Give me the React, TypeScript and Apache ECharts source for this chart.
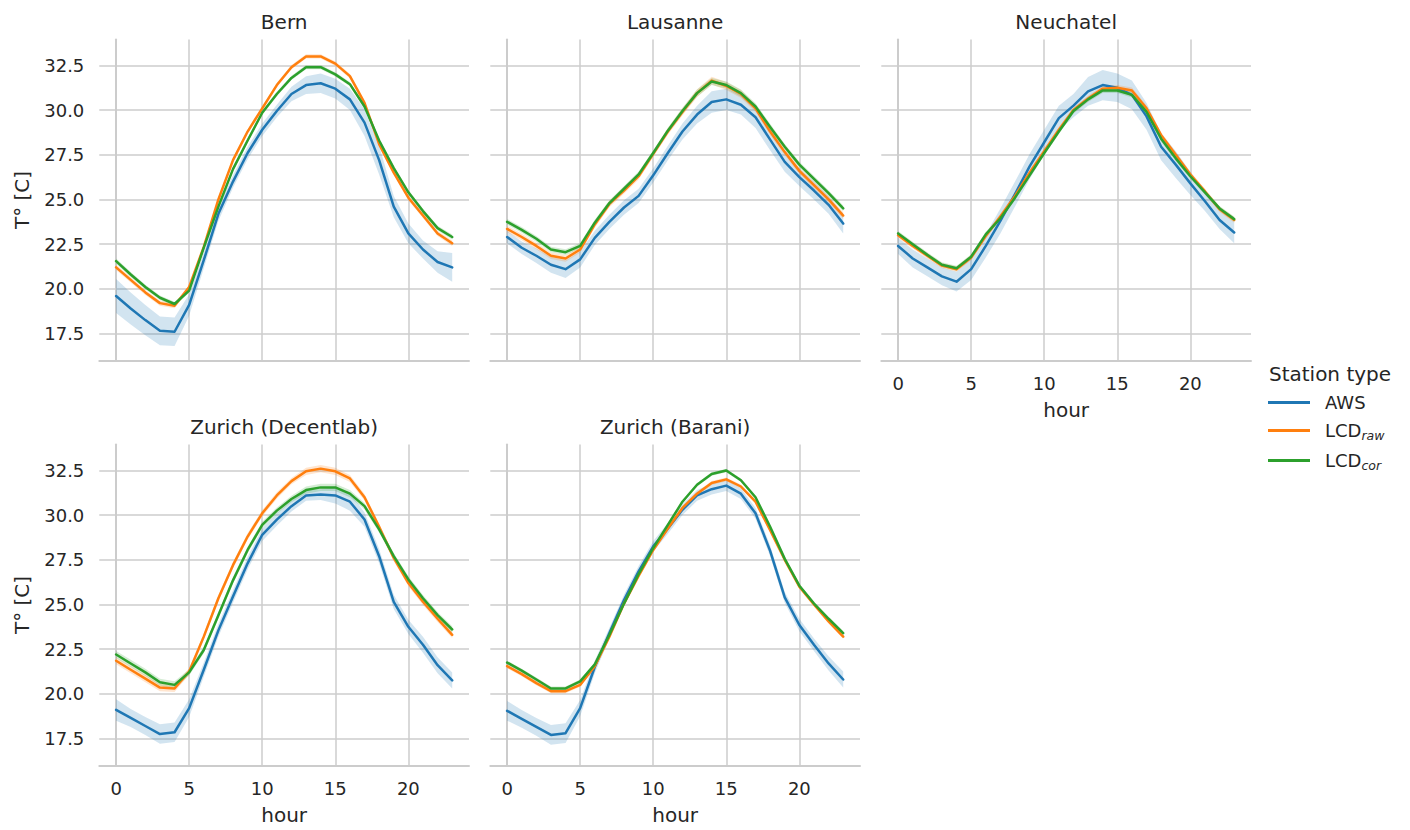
import React, { useEffect, useRef } from "react";
import * as echarts from "echarts";

const HOURS = [0, 1, 2, 3, 4, 5, 6, 7, 8, 9, 10, 11, 12, 13, 14, 15, 16, 17, 18, 19, 20, 21, 22, 23];
const X_TICKS = [0, 5, 10, 15, 20];
const Y_TICKS = [17.5, 20, 22.5, 25, 27.5, 30, 32.5];
const STATION_TYPES = ["AWS", "LCD_raw", "LCD_cor"];
const PANEL_TITLES = ["Bern", "Lausanne", "Neuchatel", "Zurich (Decentlab)", "Zurich (Barani)"];

// Bern
const bernAws = [19.6, 18.9, 18.25, 17.65, 17.6, 19.1, 21.6, 24.2, 26.0, 27.6, 28.9, 29.95, 30.9, 31.4, 31.5, 31.2, 30.6, 29.3, 27.2, 24.6, 23.1, 22.2, 21.5, 21.2];
const bernAwsCi = [0.95, 0.9, 0.85, 0.8, 0.8, 0.6, 0.45, 0.4, 0.35, 0.35, 0.35, 0.35, 0.4, 0.5, 0.55, 0.55, 0.6, 0.75, 0.8, 0.6, 0.55, 0.5, 0.6, 0.8];
const bernRaw = [21.2, 20.5, 19.8, 19.2, 19.05, 20.1, 22.35, 25.0, 27.2, 28.8, 30.1, 31.4, 32.4, 33.0, 33.0, 32.6, 31.9, 30.4, 28.1, 26.5, 25.1, 24.1, 23.1, 22.55];
const bernRawCi = [0.15, 0.15, 0.14, 0.14, 0.14, 0.13, 0.13, 0.13, 0.12, 0.12, 0.12, 0.12, 0.12, 0.12, 0.12, 0.12, 0.13, 0.13, 0.13, 0.13, 0.14, 0.14, 0.14, 0.15];
const bernCor = [21.55, 20.8, 20.1, 19.5, 19.15, 19.9, 22.3, 24.6, 26.7, 28.3, 29.85, 30.9, 31.8, 32.4, 32.4, 32.0, 31.45, 30.2, 28.3, 26.75, 25.4, 24.35, 23.4, 22.9];
const bernCorCi = [0.14, 0.14, 0.13, 0.13, 0.13, 0.12, 0.12, 0.12, 0.12, 0.12, 0.12, 0.12, 0.12, 0.12, 0.12, 0.12, 0.12, 0.12, 0.12, 0.12, 0.13, 0.13, 0.13, 0.14];

// Lausanne
const lauAws = [22.9, 22.3, 21.85, 21.35, 21.1, 21.65, 22.85, 23.75, 24.55, 25.2, 26.35, 27.6, 28.8, 29.75, 30.45, 30.6, 30.3, 29.6, 28.35, 27.1, 26.25, 25.5, 24.7, 23.65];
const lauAwsCi = [0.35, 0.35, 0.4, 0.45, 0.5, 0.45, 0.4, 0.4, 0.4, 0.4, 0.4, 0.4, 0.45, 0.5, 0.6, 0.6, 0.55, 0.6, 0.6, 0.55, 0.5, 0.5, 0.5, 0.55];
const lauRaw = [23.35, 22.9, 22.4, 21.85, 21.7, 22.2, 23.6, 24.75, 25.5, 26.3, 27.55, 28.8, 29.9, 30.95, 31.65, 31.35, 30.9, 30.1, 28.8, 27.65, 26.6, 25.8, 25.0, 24.1];
const lauRawCi = [0.18, 0.18, 0.18, 0.18, 0.18, 0.18, 0.18, 0.18, 0.18, 0.18, 0.18, 0.18, 0.2, 0.22, 0.22, 0.22, 0.22, 0.2, 0.2, 0.18, 0.18, 0.18, 0.18, 0.18];
const lauCor = [23.75, 23.3, 22.8, 22.2, 22.05, 22.4, 23.7, 24.8, 25.6, 26.4, 27.6, 28.85, 29.95, 30.95, 31.6, 31.4, 30.95, 30.2, 29.05, 27.95, 26.95, 26.15, 25.35, 24.5];
const lauCorCi = [0.16, 0.16, 0.16, 0.16, 0.16, 0.16, 0.16, 0.16, 0.16, 0.16, 0.16, 0.16, 0.18, 0.2, 0.2, 0.2, 0.2, 0.18, 0.18, 0.16, 0.16, 0.16, 0.16, 0.16];

// Neuchatel
const neuAws = [22.4, 21.7, 21.2, 20.7, 20.4, 21.1, 22.4, 23.8, 25.3, 26.85, 28.2, 29.55, 30.25, 31.05, 31.4, 31.25, 30.85, 29.65, 27.95, 26.95, 25.9, 24.9, 23.85, 23.15];
const neuAwsCi = [0.45, 0.5, 0.5, 0.5, 0.55, 0.6, 0.65, 0.7, 0.7, 0.7, 0.7, 0.7, 0.65, 0.8, 0.85, 0.8, 0.8, 0.75, 0.75, 0.75, 0.65, 0.55, 0.5, 0.6];
const neuRaw = [23.0, 22.4, 21.85, 21.3, 21.1, 21.75, 22.95, 24.05, 25.2, 26.5, 27.7, 28.9, 30.0, 30.65, 31.2, 31.25, 31.1, 30.1, 28.6, 27.5, 26.4, 25.45, 24.45, 23.85];
const neuRawCi = [0.15, 0.15, 0.15, 0.15, 0.15, 0.15, 0.15, 0.15, 0.15, 0.15, 0.15, 0.15, 0.15, 0.15, 0.15, 0.16, 0.16, 0.16, 0.16, 0.16, 0.15, 0.15, 0.15, 0.15];
const neuCor = [23.1, 22.5, 21.9, 21.35, 21.15, 21.8, 23.05, 23.95, 25.1, 26.35, 27.6, 28.8, 29.95, 30.6, 31.1, 31.1, 30.85, 29.9, 28.4, 27.3, 26.3, 25.4, 24.5, 23.9];
const neuCorCi = [0.14, 0.14, 0.14, 0.14, 0.14, 0.14, 0.14, 0.14, 0.14, 0.14, 0.14, 0.14, 0.14, 0.14, 0.15, 0.15, 0.15, 0.15, 0.15, 0.15, 0.14, 0.14, 0.14, 0.14];

// Zurich (Decentlab)
const zdAws = [19.1, 18.65, 18.2, 17.75, 17.85, 19.2, 21.35, 23.55, 25.45, 27.3, 28.9, 29.75, 30.5, 31.1, 31.15, 31.1, 30.75, 29.75, 27.7, 25.15, 23.75, 22.75, 21.6, 20.75];
const zdAwsCi = [0.6, 0.5, 0.5, 0.55, 0.55, 0.5, 0.4, 0.35, 0.35, 0.35, 0.35, 0.35, 0.3, 0.3, 0.3, 0.45, 0.5, 0.4, 0.4, 0.4, 0.4, 0.45, 0.45, 0.45];
const zdRaw = [21.85, 21.35, 20.85, 20.35, 20.3, 21.25, 23.2, 25.35, 27.2, 28.8, 30.1, 31.1, 31.9, 32.45, 32.6, 32.45, 32.05, 31.0, 29.35, 27.6, 26.2, 25.15, 24.2, 23.3];
const zdRawCi = [0.2, 0.2, 0.2, 0.2, 0.2, 0.18, 0.18, 0.18, 0.18, 0.18, 0.18, 0.18, 0.18, 0.2, 0.2, 0.2, 0.2, 0.18, 0.18, 0.18, 0.18, 0.18, 0.18, 0.18];
const zdCor = [22.2, 21.7, 21.2, 20.65, 20.5, 21.2, 22.45, 24.4, 26.35, 28.05, 29.45, 30.25, 30.9, 31.4, 31.55, 31.55, 31.2, 30.5, 29.2, 27.7, 26.4, 25.35, 24.4, 23.6];
const zdCorCi = [0.2, 0.2, 0.2, 0.2, 0.2, 0.18, 0.18, 0.18, 0.18, 0.18, 0.18, 0.18, 0.18, 0.2, 0.2, 0.2, 0.2, 0.18, 0.18, 0.18, 0.18, 0.18, 0.18, 0.18];

// Zurich (Barani)
const zbAws = [19.05, 18.6, 18.15, 17.7, 17.8, 19.2, 21.5, 23.4, 25.25, 26.85, 28.25, 29.25, 30.3, 31.1, 31.45, 31.65, 31.2, 30.1, 28.0, 25.4, 23.85, 22.75, 21.7, 20.8];
const zbAwsCi = [0.55, 0.5, 0.5, 0.55, 0.55, 0.45, 0.35, 0.3, 0.3, 0.3, 0.3, 0.3, 0.3, 0.3, 0.3, 0.3, 0.3, 0.3, 0.3, 0.3, 0.35, 0.35, 0.4, 0.45];
const zbRaw = [21.55, 21.1, 20.6, 20.15, 20.15, 20.5, 21.55, 23.2, 25.05, 26.6, 28.05, 29.25, 30.4, 31.2, 31.8, 32.0, 31.6, 30.75, 29.15, 27.5, 26.0, 25.0, 24.05, 23.2];
const zbRawCi = [0.12, 0.12, 0.12, 0.12, 0.12, 0.11, 0.11, 0.11, 0.11, 0.11, 0.11, 0.11, 0.11, 0.11, 0.11, 0.11, 0.11, 0.11, 0.11, 0.11, 0.12, 0.12, 0.12, 0.12];
const zbCor = [21.75, 21.3, 20.8, 20.3, 20.3, 20.7, 21.65, 23.3, 25.05, 26.7, 28.15, 29.45, 30.75, 31.7, 32.3, 32.5, 31.95, 31.0, 29.35, 27.55, 26.05, 25.05, 24.2, 23.4];
const zbCorCi = [0.11, 0.11, 0.11, 0.11, 0.11, 0.1, 0.1, 0.1, 0.1, 0.1, 0.1, 0.1, 0.1, 0.1, 0.1, 0.1, 0.1, 0.1, 0.1, 0.1, 0.11, 0.11, 0.11, 0.11];

const PANELS = [
  { means: [bernAws, bernRaw, bernCor], cis: [bernAwsCi, bernRawCi, bernCorCi] },
  { means: [lauAws, lauRaw, lauCor], cis: [lauAwsCi, lauRawCi, lauCorCi] },
  { means: [neuAws, neuRaw, neuCor], cis: [neuAwsCi, neuRawCi, neuCorCi] },
  { means: [zdAws, zdRaw, zdCor], cis: [zdAwsCi, zdRawCi, zdCorCi] },
  { means: [zbAws, zbRaw, zbCor], cis: [zbAwsCi, zbRawCi, zbCorCi] },
];

const COLORS = ["#1f77b4", "#ff7f0e", "#2ca02c"];
const BAND_COLORS = ["rgba(31,119,180,0.2)", "rgba(255,127,14,0.2)", "rgba(44,160,44,0.2)"];
const FONT = '"DejaVu Sans", sans-serif';
const TEXT = "#262626";
const GRID_C = "#cccccc";

const COL_LEFT = [99.3, 490.3, 881.3];
const ROW_TOP = [39.5, 444.5];
const GW = 369.7;
const GH = 321;
const POS = [
  [0, 0],
  [1, 0],
  [2, 0],
  [0, 1],
  [1, 1],
];
const SHOW_X = [false, false, true, true, true];
const SHOW_Y = [true, false, false, true, false];

function buildOption() {
  const grids: any[] = [];
  const xAxes: any[] = [];
  const yAxes: any[] = [];
  const series: any[] = [];
  const graphics: any[] = [];

  PANELS.forEach((p, i) => {
    const [c, r] = POS[i];
    grids.push({ left: COL_LEFT[c], top: ROW_TOP[r], width: GW, height: GH, containLabel: false, outerBoundsMode: "none" });
    xAxes.push({
      type: "value",
      gridIndex: i,
      min: -1.15,
      max: 24.15,
      name: SHOW_X[i] ? "hour" : "",
      nameLocation: "middle",
      nameGap: 39,
      nameTextStyle: { fontFamily: FONT, fontSize: 20, color: TEXT },
      axisLine: { show: true, lineStyle: { color: GRID_C, width: 2 } },
      axisTick: { show: false, customValues: X_TICKS },
      axisLabel: { show: SHOW_X[i], customValues: X_TICKS, margin: 14, fontFamily: FONT, fontSize: 18, color: TEXT },
      splitLine: { show: true, lineStyle: { color: GRID_C, width: 1.5 } },
    });
    yAxes.push({
      type: "value",
      gridIndex: i,
      min: 15.99,
      max: 33.95,
      name: SHOW_Y[i] ? "T° [C]" : "",
      nameLocation: "middle",
      nameGap: 67,
      nameTextStyle: { fontFamily: FONT, fontSize: 20, color: TEXT },
      axisLine: { show: true, lineStyle: { color: GRID_C, width: 2 } },
      axisTick: { show: false, customValues: Y_TICKS },
      axisLabel: {
        show: SHOW_Y[i],
        customValues: Y_TICKS,
        margin: 15,
        fontFamily: FONT,
        fontSize: 18,
        color: TEXT,
        formatter: (v: number) => v.toFixed(1),
      },
      splitLine: { show: true, lineStyle: { color: GRID_C, width: 1.5 } },
    });

    STATION_TYPES.forEach((name, k) => {
      const mean = p.means[k];
      const ci = p.cis[k];
      series.push({
        type: "custom",
        xAxisIndex: i,
        yAxisIndex: i,
        silent: true,
        z: 2,
        data: HOURS.map((h, j) => [h, mean[j] - ci[j], mean[j] + ci[j]]),
        encode: { x: 0, y: [1, 2] },
        renderItem: (params: any, api: any) => {
          if (params.dataIndex !== 0) return null;
          const upper = HOURS.map((h, j) => api.coord([h, mean[j] + ci[j]]));
          const lower = HOURS.map((h, j) => api.coord([h, mean[j] - ci[j]])).reverse();
          return { type: "polygon", shape: { points: upper.concat(lower) }, style: { fill: BAND_COLORS[k] } };
        },
      });
      series.push({
        name,
        type: "line",
        xAxisIndex: i,
        yAxisIndex: i,
        z: 2,
        symbol: "none",
        showSymbol: false,
        color: COLORS[k],
        lineStyle: { color: COLORS[k], width: 2.5, join: "round", cap: "round" },
        data: HOURS.map((h, j) => [h, mean[j]]),
      });
    });

    graphics.push({
      type: "text",
      x: COL_LEFT[c] + GW / 2,
      y: ROW_TOP[r] - 18,
      style: {
        text: PANEL_TITLES[i],
        fill: TEXT,
        font: `20px ${FONT}`,
        align: "center",
        verticalAlign: "middle",
        textAlign: "center",
        textVerticalAlign: "middle",
      },
    });
  });

  graphics.push({
    type: "text",
    x: 1330,
    y: 374,
    style: {
      text: "Station type",
      fill: TEXT,
      font: `20px ${FONT}`,
      align: "center",
      verticalAlign: "middle",
      textAlign: "center",
      textVerticalAlign: "middle",
    },
  });

  return {
    animation: false,
    backgroundColor: "#ffffff",
    grid: grids,
    xAxis: xAxes,
    yAxis: yAxes,
    series,
    graphic: graphics,
    legend: {
      data: STATION_TYPES,
      orient: "vertical",
      left: 1268,
      top: 393.5,
      padding: 0,
      itemGap: 10,
      itemWidth: 42,
      itemHeight: 3,
      icon: "rect",
      selectedMode: false,
      formatter: (n: string) => (n === "AWS" ? "{a|AWS}" : n === "LCD_raw" ? "{a|LCD}{b|raw}" : "{a|LCD}{b|cor}"),
      textStyle: {
        rich: {
          a: { fontFamily: FONT, fontSize: 18, color: TEXT, lineHeight: 22, padding: [0, 0, 0, 10] },
          b: { fontFamily: FONT, fontSize: 12.5, fontStyle: "italic", color: TEXT, verticalAlign: "bottom", lineHeight: 10.5 },
        },
      },
    },
  };
}

export default function App() {
  const ref = useRef<HTMLDivElement>(null);
  useEffect(() => {
    const chart = echarts.init(ref.current as HTMLDivElement, null, { renderer: "svg" });
    chart.setOption(buildOption() as any);
    return () => {
      chart.dispose();
    };
  }, []);
  return <div ref={ref} style={{ position: "absolute", left: 0, top: 0, width: 1410, height: 830 }} />;
}
